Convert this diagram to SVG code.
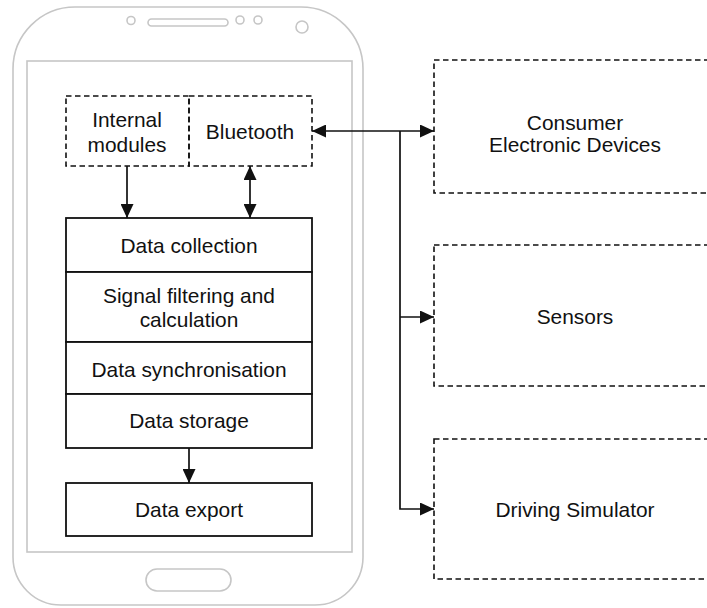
<svg xmlns="http://www.w3.org/2000/svg" width="707" height="608" viewBox="0 0 707 608">
<defs>
<style>
.phone{fill:none;stroke:#c6c6c6;stroke-width:1.6}
.box{fill:#fff;stroke:#111;stroke-width:1.8}
.dash{fill:none;stroke:#111;stroke-width:1.6;stroke-dasharray:5.5 3.5}
.lbl{font-family:"Liberation Sans",Arial,Helvetica,sans-serif;font-size:20.9px;fill:#111;text-anchor:middle}
.conn{fill:none;stroke:#111;stroke-width:1.7}
</style>
<marker id="ah" markerUnits="userSpaceOnUse" markerWidth="14" markerHeight="13" refX="14" refY="6.5" orient="auto-start-reverse" viewBox="0 0 14 13">
<path d="M0,0 L14,6.5 L0,13 z" fill="#111"/>
</marker>
</defs>
<rect width="707" height="608" fill="#fff"/>
<g id="phone">
<path class="phone" d="M75,7 H301 A62,62 0 0 1 363,69 V557 A48,48 0 0 1 315,605 H61 A48,48 0 0 1 13,557 V69 A62,62 0 0 1 75,7 Z"/>
<rect class="phone" x="27" y="61" width="325" height="491"/>
<circle class="phone" cx="131" cy="20.5" r="4"/>
<rect class="phone" x="148" y="19" width="80" height="7" rx="3.5"/>
<circle class="phone" cx="240" cy="20" r="4"/>
<circle class="phone" cx="258" cy="20" r="4"/>
<circle class="phone" cx="302" cy="27" r="6"/>
<rect class="phone" x="146" y="569" width="85" height="22" rx="11"/>
</g>
<g id="internal-modules">
<rect class="dash" x="66" y="96" width="123" height="70"/>
<text class="lbl" x="127" y="126.5">Internal</text>
<text class="lbl" x="127" y="151.5">modules</text>
</g>
<g id="bluetooth">
<rect class="dash" x="189" y="96" width="123" height="70"/>
<text class="lbl" x="250" y="139">Bluetooth</text>
</g>
<g id="data-collection">
<rect class="box" x="66" y="218" width="246" height="54"/>
<text class="lbl" x="189" y="252.5">Data collection</text>
</g>
<g id="signal-filtering">
<rect class="box" x="66" y="272" width="246" height="70"/>
<text class="lbl" x="189" y="303">Signal filtering and</text>
<text class="lbl" x="189" y="326.5">calculation</text>
</g>
<g id="data-synchronisation">
<rect class="box" x="66" y="342" width="246" height="52"/>
<text class="lbl" x="189" y="376.5">Data synchronisation</text>
</g>
<g id="data-storage">
<rect class="box" x="66" y="394" width="246" height="54"/>
<text class="lbl" x="189" y="428">Data storage</text>
</g>
<g id="data-export">
<rect class="box" x="66" y="483" width="246" height="53"/>
<text class="lbl" x="189" y="517">Data export</text>
</g>
<g id="consumer-electronic-devices">
<rect class="dash" x="434" y="60" width="290" height="133"/>
<text class="lbl" x="575" y="130">Consumer</text>
<text class="lbl" x="575" y="151.5">Electronic Devices</text>
</g>
<g id="sensors">
<rect class="dash" x="434" y="245" width="290" height="141"/>
<text class="lbl" x="575" y="323.5">Sensors</text>
</g>
<g id="driving-simulator">
<rect class="dash" x="434" y="439" width="290" height="140"/>
<text class="lbl" x="575" y="516.5">Driving Simulator</text>
</g>
<g id="connectors">
<line class="conn" x1="127" y1="166" x2="127" y2="218" marker-end="url(#ah)"/>
<line class="conn" x1="250" y1="166" x2="250" y2="218" marker-start="url(#ah)" marker-end="url(#ah)"/>
<line class="conn" x1="189" y1="448" x2="189" y2="483" marker-end="url(#ah)"/>
<line class="conn" x1="312" y1="131" x2="434" y2="131" marker-start="url(#ah)" marker-end="url(#ah)"/>
<polyline class="conn" points="400,131 400,509 434,509" marker-end="url(#ah)"/>
<line class="conn" x1="400" y1="317" x2="434" y2="317" marker-end="url(#ah)"/>
</g>
</svg>
